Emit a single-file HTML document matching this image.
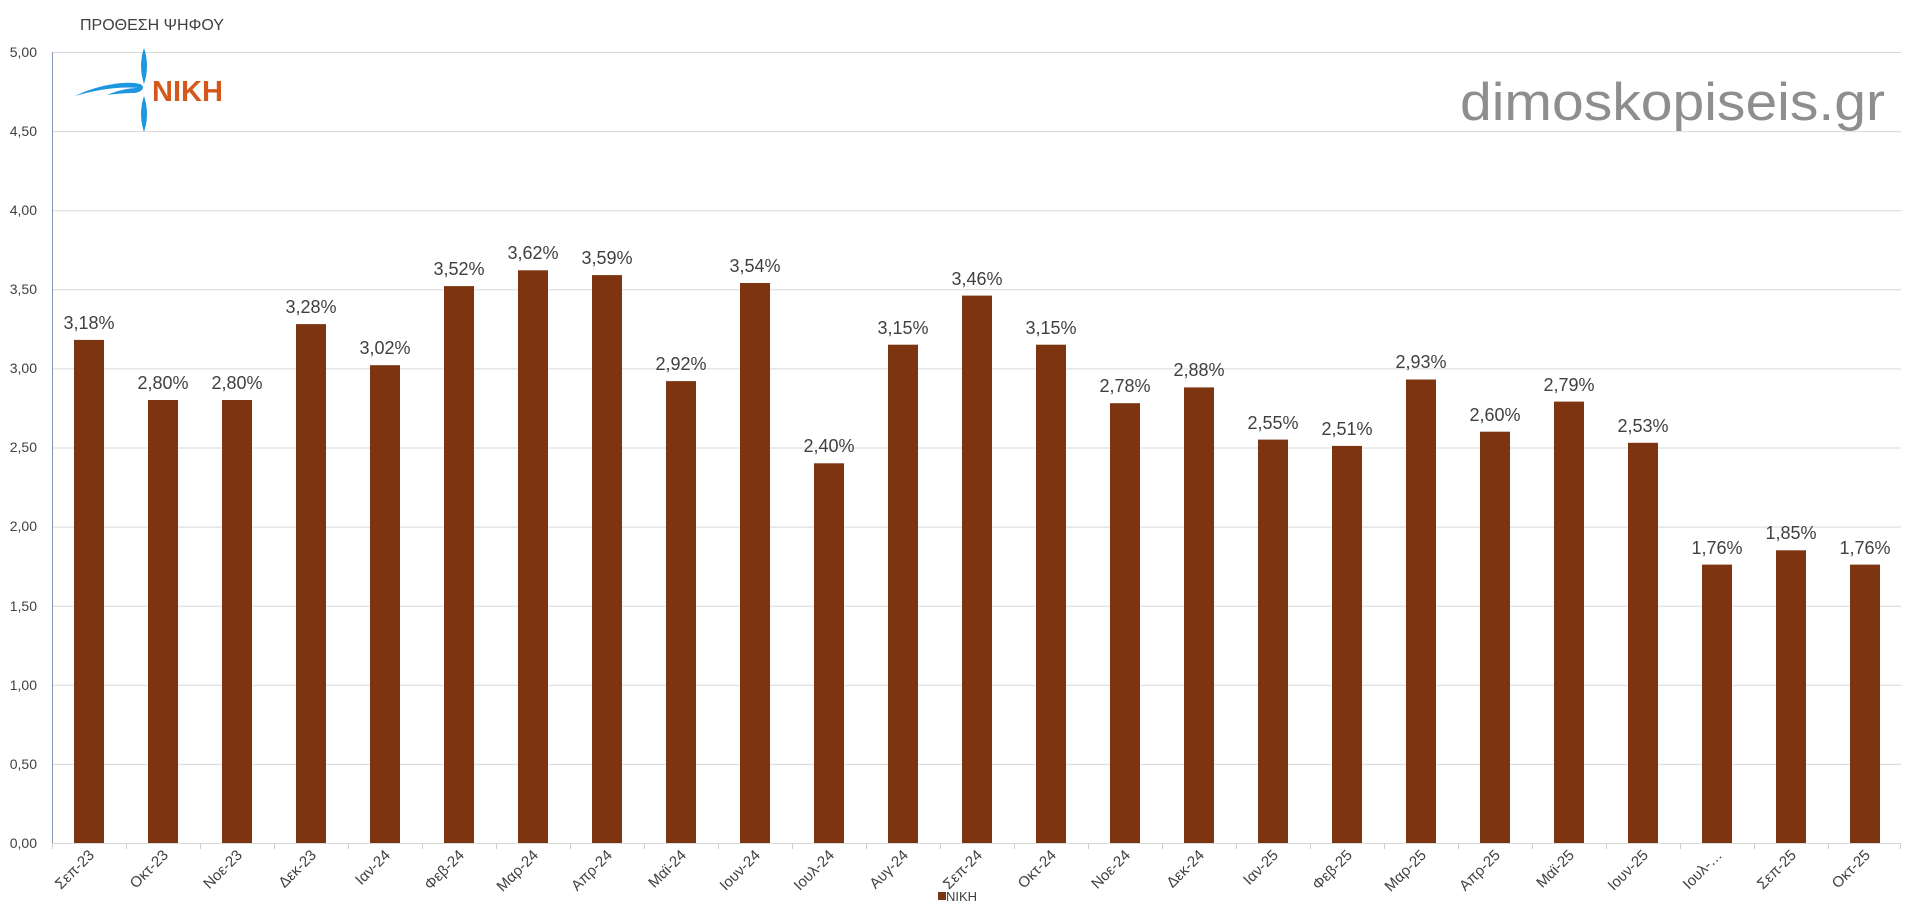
<!DOCTYPE html>
<html><head><meta charset="utf-8"><style>
html,body{margin:0;padding:0;background:#fff;}
svg{display:block;font-family:"Liberation Sans","DejaVu Sans",sans-serif;}
</style></head><body>
<svg width="1920" height="920" viewBox="0 0 1920 920" xmlns="http://www.w3.org/2000/svg">
<rect width="1920" height="920" fill="#fff"/>
<g stroke="#d9d9d9" stroke-width="1">
<line x1="52" x2="1901" y1="52.5" y2="52.5"/>
<line x1="52" x2="1901" y1="131.6" y2="131.6"/>
<line x1="52" x2="1901" y1="210.7" y2="210.7"/>
<line x1="52" x2="1901" y1="289.8" y2="289.8"/>
<line x1="52" x2="1901" y1="368.9" y2="368.9"/>
<line x1="52" x2="1901" y1="448" y2="448"/>
<line x1="52" x2="1901" y1="527.1" y2="527.1"/>
<line x1="52" x2="1901" y1="606.2" y2="606.2"/>
<line x1="52" x2="1901" y1="685.3" y2="685.3"/>
<line x1="52" x2="1901" y1="764.4" y2="764.4"/>
<line x1="52" x2="1901" y1="843.5" y2="843.5"/>
</g>
<g stroke="#d0d0d0" stroke-width="1">
<line x1="126.5" x2="126.5" y1="843" y2="849"/><line x1="200.5" x2="200.5" y1="843" y2="849"/>
<line x1="274.5" x2="274.5" y1="843" y2="849"/><line x1="348.5" x2="348.5" y1="843" y2="849"/>
<line x1="422.5" x2="422.5" y1="843" y2="849"/><line x1="496.5" x2="496.5" y1="843" y2="849"/>
<line x1="570.5" x2="570.5" y1="843" y2="849"/><line x1="644.5" x2="644.5" y1="843" y2="849"/>
<line x1="718.5" x2="718.5" y1="843" y2="849"/><line x1="792.5" x2="792.5" y1="843" y2="849"/>
<line x1="866.5" x2="866.5" y1="843" y2="849"/><line x1="940.5" x2="940.5" y1="843" y2="849"/>
<line x1="1014.5" x2="1014.5" y1="843" y2="849"/><line x1="1088.5" x2="1088.5" y1="843" y2="849"/>
<line x1="1162.5" x2="1162.5" y1="843" y2="849"/><line x1="1236.5" x2="1236.5" y1="843" y2="849"/>
<line x1="1310.5" x2="1310.5" y1="843" y2="849"/><line x1="1384.5" x2="1384.5" y1="843" y2="849"/>
<line x1="1458.5" x2="1458.5" y1="843" y2="849"/><line x1="1532.5" x2="1532.5" y1="843" y2="849"/>
<line x1="1606.5" x2="1606.5" y1="843" y2="849"/><line x1="1680.5" x2="1680.5" y1="843" y2="849"/>
<line x1="1754.5" x2="1754.5" y1="843" y2="849"/><line x1="1828.5" x2="1828.5" y1="843" y2="849"/>
<line x1="1900.5" x2="1900.5" y1="843" y2="849"/><line x1="52.5" x2="52.5" y1="843" y2="849"/>
</g>
<line x1="52.5" x2="52.5" y1="52" y2="843" stroke="#8496b0" stroke-width="1"/>
<g fill="#404040" font-size="14" text-anchor="end">
<text x="37" y="57">5,00</text><text x="37" y="136">4,50</text><text x="37" y="215">4,00</text>
<text x="37" y="294">3,50</text><text x="37" y="373">3,00</text><text x="37" y="452">2,50</text>
<text x="37" y="531">2,00</text><text x="37" y="611">1,50</text><text x="37" y="690">1,00</text>
<text x="37" y="769">0,50</text><text x="37" y="848">0,00</text>
</g>
<text x="80" y="30" fill="#404040" font-size="16">ΠΡΟΘΕΣΗ ΨΗΦΟΥ</text>
<g fill="#1e96e0">
<path d="M144,48 C148,60 148,72 144,84 C140,72 140,60 144,48Z"/>
<path d="M144,96 C148,108 148,120 144,132 C140,120 140,108 144,96Z"/>
<path d="M75,96 C95,86 125,80 140,84 C146,87 142,92 135,93 C125,93 115,94 107,95 C118,90 130,88 138,88 C120,86 95,90 75,96Z"/>
</g>
<text x="152" y="101" fill="#d4581a" font-size="29" font-weight="bold">NIKH</text>
<text x="1460" y="120" fill="#8e8e8e" font-size="53" textLength="425" lengthAdjust="spacingAndGlyphs">dimoskopiseis.gr</text>
<g fill="#7d3410">
<rect x="74" y="339.9" width="30" height="503.1"/>
<rect x="148" y="400" width="30" height="443"/>
<rect x="222" y="400" width="30" height="443"/>
<rect x="296" y="324.1" width="30" height="518.9"/>
<rect x="370" y="365.2" width="30" height="477.8"/>
<rect x="444" y="286.1" width="30" height="556.9"/>
<rect x="518" y="270.3" width="30" height="572.7"/>
<rect x="592" y="275.1" width="30" height="567.9"/>
<rect x="666" y="381.1" width="30" height="461.9"/>
<rect x="740" y="283" width="30" height="560"/>
<rect x="814" y="463.3" width="30" height="379.7"/>
<rect x="888" y="344.7" width="30" height="498.3"/>
<rect x="962" y="295.6" width="30" height="547.4"/>
<rect x="1036" y="344.7" width="30" height="498.3"/>
<rect x="1110" y="403.2" width="30" height="439.8"/>
<rect x="1184" y="387.4" width="30" height="455.6"/>
<rect x="1258" y="439.6" width="30" height="403.4"/>
<rect x="1332" y="445.9" width="30" height="397.1"/>
<rect x="1406" y="379.5" width="30" height="463.5"/>
<rect x="1480" y="431.7" width="30" height="411.3"/>
<rect x="1554" y="401.6" width="30" height="441.4"/>
<rect x="1628" y="442.8" width="30" height="400.2"/>
<rect x="1702" y="564.6" width="30" height="278.4"/>
<rect x="1776" y="550.3" width="30" height="292.7"/>
<rect x="1850" y="564.6" width="30" height="278.4"/>
</g>
<g fill="#404040" font-size="18" text-anchor="middle">
<text x="89" y="329">3,18%</text>
<text x="163" y="389">2,80%</text>
<text x="237" y="389">2,80%</text>
<text x="311" y="313">3,28%</text>
<text x="385" y="354">3,02%</text>
<text x="459" y="275">3,52%</text>
<text x="533" y="259">3,62%</text>
<text x="607" y="264">3,59%</text>
<text x="681" y="370">2,92%</text>
<text x="755" y="272">3,54%</text>
<text x="829" y="452">2,40%</text>
<text x="903" y="334">3,15%</text>
<text x="977" y="285">3,46%</text>
<text x="1051" y="334">3,15%</text>
<text x="1125" y="392">2,78%</text>
<text x="1199" y="376">2,88%</text>
<text x="1273" y="429">2,55%</text>
<text x="1347" y="435">2,51%</text>
<text x="1421" y="368">2,93%</text>
<text x="1495" y="421">2,60%</text>
<text x="1569" y="391">2,79%</text>
<text x="1643" y="432">2,53%</text>
<text x="1717" y="554">1,76%</text>
<text x="1791" y="539">1,85%</text>
<text x="1865" y="554">1,76%</text>
</g>
<g fill="#404040" font-size="15" text-anchor="end">
<text transform="translate(95,856) rotate(-45)">Σεπ-23</text>
<text transform="translate(169,856) rotate(-45)">Οκτ-23</text>
<text transform="translate(243,856) rotate(-45)">Νοε-23</text>
<text transform="translate(317,856) rotate(-45)">Δεκ-23</text>
<text transform="translate(391,856) rotate(-45)">Ιαν-24</text>
<text transform="translate(465,856) rotate(-45)">Φεβ-24</text>
<text transform="translate(539,856) rotate(-45)">Μαρ-24</text>
<text transform="translate(613,856) rotate(-45)">Απρ-24</text>
<text transform="translate(687,856) rotate(-45)">Μαϊ-24</text>
<text transform="translate(761,856) rotate(-45)">Ιουν-24</text>
<text transform="translate(835,856) rotate(-45)">Ιουλ-24</text>
<text transform="translate(909,856) rotate(-45)">Αυγ-24</text>
<text transform="translate(983,856) rotate(-45)">Σεπ-24</text>
<text transform="translate(1057,856) rotate(-45)">Οκτ-24</text>
<text transform="translate(1131,856) rotate(-45)">Νοε-24</text>
<text transform="translate(1205,856) rotate(-45)">Δεκ-24</text>
<text transform="translate(1279,856) rotate(-45)">Ιαν-25</text>
<text transform="translate(1353,856) rotate(-45)">Φεβ-25</text>
<text transform="translate(1427,856) rotate(-45)">Μαρ-25</text>
<text transform="translate(1501,856) rotate(-45)">Απρ-25</text>
<text transform="translate(1575,856) rotate(-45)">Μαϊ-25</text>
<text transform="translate(1649,856) rotate(-45)">Ιουν-25</text>
<text transform="translate(1723,856) rotate(-45)">Ιουλ-…</text>
<text transform="translate(1797,856) rotate(-45)">Σεπ-25</text>
<text transform="translate(1871,856) rotate(-45)">Οκτ-25</text>
</g>
<rect x="938" y="892" width="8" height="8" fill="#7d3410"/>
<text x="946" y="901" fill="#404040" font-size="13">NIKH</text>
</svg>
</body></html>
